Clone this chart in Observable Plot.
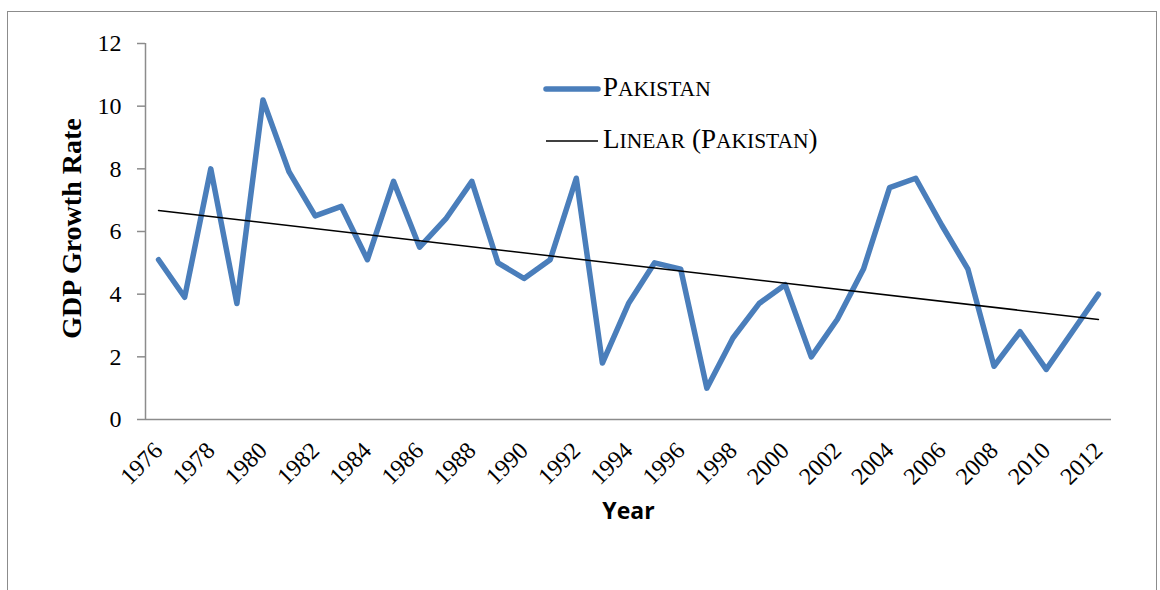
<!DOCTYPE html>
<html>
<head>
<meta charset="utf-8">
<script src="https://cdn.jsdelivr.net/npm/d3@7"></script>
<script src="https://cdn.jsdelivr.net/npm/@observablehq/plot@0.6"></script>
<style>
  html, body { margin: 0; padding: 0; background: #fff; }
  #wrap { position: relative; width: 1160px; height: 590px; overflow: hidden; }
  #border { position: absolute; left: 7px; top: 11px; width: 1150px; height: 600px; border: 1.5px solid #8c8c8c; box-sizing: border-box; pointer-events: none; }
  .leg { position: absolute; font-family: "Liberation Serif", "Times New Roman", serif; color: #000; white-space: nowrap; }
  .big { font-size: 27px; }
  .sm { font-size: 21.5px; }
</style>
</head>
<body>
<div id="wrap">
  <div id="chart"></div>
  <div id="border"></div>
  <svg class="leg" style="left:540px;top:80px" width="64" height="80">
    <line x1="6" x2="58" y1="9" y2="9" stroke="#4a7ebb" stroke-width="5.5" stroke-linecap="round"/>
    <line x1="6" x2="58" y1="61" y2="61" stroke="#000" stroke-width="1.5"/>
  </svg>
  <div class="leg" style="left:603px;top:72px"><span class="big">P</span><span class="sm">AKISTAN</span></div>
  <div class="leg" style="left:603px;top:124px"><span class="big">L</span><span class="sm">INEAR</span><span class="big"> (P</span><span class="sm">AKISTAN</span><span class="big">)</span></div>
</div>
<script>
const years = d3.range(1976, 2013);
const growth = [5.1, 3.9, 8.0, 3.7, 10.2, 7.9, 6.5, 6.8, 5.1, 7.6, 5.5, 6.4, 7.6, 5.0, 4.5, 5.1, 7.7, 1.8, 3.7, 5.0, 4.8, 1.0, 2.6, 3.7, 4.3, 2.0, 3.2, 4.8, 7.4, 7.7, 6.2, 4.8, 1.7, 2.8, 1.6, 2.8, 4.0];
const xTicks = d3.range(1976, 2013, 2);
const yTicks = [0, 2, 4, 6, 8, 10, 12];
const seriesName = "Pakistan";
const yTitle = "GDP Growth Rate";
const xTitle = "Year";

const data = years.map((y, i) => ({year: y, value: growth[i], series: seriesName}));

const serif = "Liberation Serif, Times New Roman, serif";

const chart = Plot.plot({
  width: 1160,
  height: 590,
  marginLeft: 145,
  marginRight: 49,
  marginTop: 43,
  marginBottom: 171,
  style: {background: "transparent", fontFamily: serif, color: "#000"},
  x: {domain: [1975.5, 2012.5]},
  y: {domain: [0, 12]},
  marks: [
    Plot.axisY({ticks: yTicks, tickSize: 8, tickPadding: 16, fontSize: 24, stroke: "#8c8c8c", strokeWidth: 1.5, label: null, fill: "#000"}),
    Plot.axisX({ticks: xTicks, tickSize: 0, tickRotate: -45, tickPadding: 27, fontSize: 24, tickFormat: d => String(d), label: null, fill: "#000"}),
    Plot.ruleX([1975.5], {stroke: "#8c8c8c", strokeWidth: 1.5}),
    Plot.ruleY([0], {stroke: "#8c8c8c", strokeWidth: 1.5, x1: 1975.5, x2: 2012.5}),
    Plot.line(data, {x: "year", y: "value", stroke: "#4a7ebb", strokeWidth: 5.5, strokeLinejoin: "round"}),
    Plot.linearRegressionY(data, {x: "year", y: "value", stroke: "#000", strokeWidth: 1.5, ci: 0}),
    Plot.text([yTitle], {frameAnchor: "left", textAnchor: "middle", dx: -73, dy: -3, rotate: -90, fontWeight: "bold", fontSize: 28, fontFamily: serif}),
    Plot.text([xTitle], {frameAnchor: "bottom", dy: 99, fontWeight: "bold", fontSize: 23, fontFamily: "Open Sans, Liberation Sans, sans-serif"})
  ]
});
document.getElementById("chart").appendChild(chart);
</script>
</body>
</html>
